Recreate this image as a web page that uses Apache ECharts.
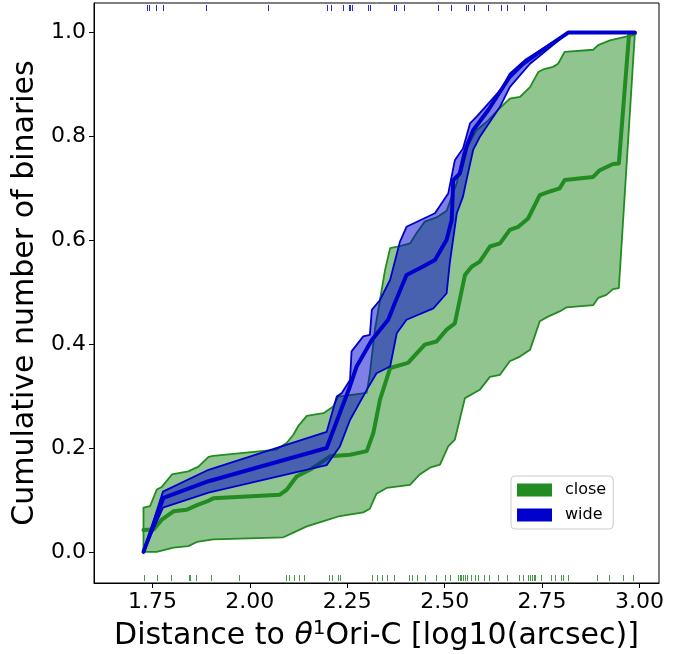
<!DOCTYPE html>
<html><head><meta charset="utf-8">
<script src="https://cdn.jsdelivr.net/npm/echarts@6/dist/echarts.min.js"></script>
<style>html,body{margin:0;padding:0;background:#fff}#c{width:694px;height:654px}</style>
</head><body><div id="c"></div>
<script>
// ---- data ----
const xTicks = [1.75, 2.00, 2.25, 2.50, 2.75, 3.00];
const yTicks = [0.0, 0.2, 0.4, 0.6, 0.8, 1.0];

const closeUpper = [[1.727,0.085],[1.744,0.088],[1.761,0.120],[1.774,0.125],[1.800,0.149],[1.842,0.155],[1.868,0.164],[1.894,0.183],[1.906,0.185],[2.069,0.197],[2.095,0.210],[2.112,0.226],[2.124,0.242],[2.146,0.262],[2.189,0.267],[2.214,0.280],[2.227,0.299],[2.300,0.306],[2.308,0.344],[2.321,0.428],[2.334,0.485],[2.347,0.543],[2.360,0.585],[2.385,0.589],[2.411,0.594],[2.428,0.614],[2.449,0.636],[2.479,0.644],[2.505,0.657],[2.531,0.710],[2.547,0.767],[2.582,0.812],[2.612,0.831],[2.637,0.851],[2.667,0.873],[2.693,0.876],[2.719,0.895],[2.740,0.924],[2.753,0.929],[2.778,0.934],[2.791,0.940],[2.808,0.963],[2.881,0.967],[2.894,0.976],[2.924,0.985],[2.971,0.993],[2.988,0.998]];
const closeMedian = [[1.727,0.042],[1.753,0.043],[1.774,0.062],[1.804,0.078],[1.838,0.081],[1.864,0.090],[1.890,0.097],[1.906,0.103],[2.077,0.110],[2.095,0.120],[2.120,0.145],[2.154,0.158],[2.206,0.184],[2.257,0.187],[2.300,0.194],[2.317,0.229],[2.334,0.293],[2.360,0.354],[2.406,0.364],[2.424,0.379],[2.449,0.399],[2.479,0.405],[2.505,0.428],[2.526,0.440],[2.552,0.533],[2.569,0.549],[2.590,0.559],[2.616,0.588],[2.642,0.594],[2.667,0.620],[2.689,0.626],[2.714,0.642],[2.744,0.687],[2.770,0.694],[2.795,0.700],[2.808,0.716],[2.881,0.722],[2.898,0.735],[2.932,0.747],[2.947,0.748],[2.973,0.995],[2.988,0.998]];
const closeLower = [[1.727,0.0],[1.761,0.0],[1.804,0.008],[1.842,0.011],[1.864,0.019],[1.906,0.024],[2.086,0.028],[2.120,0.040],[2.146,0.049],[2.189,0.059],[2.231,0.069],[2.291,0.076],[2.308,0.083],[2.325,0.112],[2.351,0.123],[2.411,0.129],[2.436,0.149],[2.462,0.162],[2.488,0.168],[2.509,0.203],[2.526,0.216],[2.552,0.296],[2.590,0.312],[2.616,0.337],[2.642,0.341],[2.667,0.367],[2.693,0.376],[2.719,0.389],[2.744,0.444],[2.765,0.453],[2.795,0.463],[2.813,0.471],[2.881,0.475],[2.894,0.489],[2.915,0.495],[2.932,0.506],[2.947,0.508],[2.988,0.998]];

const wideUpper = [[1.727,0.0],[1.777,0.116],[1.894,0.158],[2.197,0.231],[2.223,0.299],[2.236,0.306],[2.257,0.331],[2.261,0.386],[2.291,0.415],[2.308,0.418],[2.313,0.466],[2.334,0.485],[2.360,0.524],[2.385,0.597],[2.402,0.626],[2.475,0.652],[2.509,0.690],[2.526,0.754],[2.547,0.777],[2.565,0.825],[2.582,0.838],[2.646,0.892],[2.667,0.921],[2.706,0.947],[2.817,1.0],[2.988,1.0]];
const wideMedian = [[1.727,0.0],[1.778,0.104],[1.894,0.136],[2.197,0.200],[2.257,0.319],[2.274,0.357],[2.313,0.408],[2.355,0.447],[2.372,0.479],[2.402,0.533],[2.436,0.546],[2.475,0.562],[2.505,0.601],[2.518,0.639],[2.522,0.716],[2.539,0.729],[2.556,0.780],[2.573,0.812],[2.612,0.851],[2.642,0.886],[2.667,0.915],[2.701,0.940],[2.744,0.963],[2.817,1.0],[2.988,1.0]];
const wideLower = [[1.727,0.0],[1.777,0.085],[1.894,0.114],[2.197,0.167],[2.231,0.203],[2.257,0.254],[2.300,0.312],[2.325,0.344],[2.360,0.357],[2.377,0.421],[2.402,0.447],[2.471,0.469],[2.505,0.498],[2.513,0.556],[2.531,0.652],[2.547,0.684],[2.556,0.716],[2.573,0.774],[2.590,0.799],[2.642,0.857],[2.667,0.895],[2.719,0.940],[2.817,1.0],[2.988,1.0]];

const closeRug = [1.729,1.761,1.797,1.843,1.847,1.862,1.900,1.972,2.093,2.101,2.114,2.125,2.138,2.202,2.211,2.227,2.231,2.313,2.326,2.339,2.352,2.371,2.409,2.416,2.428,2.449,2.477,2.501,2.513,2.535,2.539,2.543,2.547,2.553,2.556,2.567,2.577,2.586,2.601,2.614,2.636,2.659,2.690,2.701,2.714,2.719,2.723,2.729,2.733,2.746,2.774,2.784,2.799,2.804,2.817,2.891,2.921,2.958,2.984];
const wideRug = [1.735,1.740,1.760,1.777,1.887,2.046,2.198,2.209,2.239,2.254,2.258,2.262,2.304,2.309,2.369,2.374,2.396,2.482,2.516,2.555,2.560,2.574,2.611,2.644,2.660,2.703,2.761];

const groupNames = ['close', 'wide'];

// ---- styles ----
const GREEN = '#228B22';
const BLUE = '#0000CD';
const FONT = 'DejaVu Sans';

function bandSeries(name, upper, lower, fill, stroke, z) {
  return {
    type: 'custom', name: name, z: z, silent: true, clip: true,
    coordinateSystem: 'cartesian2d',
    encode: {x: 0, y: 1},
    data: [upper[0]],
    itemStyle: {color: stroke},
    renderItem: function (params, api) {
      const pts = upper.map(p => api.coord(p))
        .concat(lower.slice().reverse().map(p => api.coord(p)));
      return {type: 'polygon', shape: {points: pts},
        style: {fill: fill, stroke: stroke, lineWidth: 1.8, lineJoin: 'round'}};
    }
  };
}
function medianSeries(name, pts, color, z) {
  return {
    type: 'line', name: name, z: z, silent: true, data: pts,
    showSymbol: false, symbol: 'none', smooth: false,
    lineStyle: {color: color, width: 4, join: 'round', cap: 'round'},
    itemStyle: {color: color}
  };
}
function rugSeries(name, vals, color, atTop) {
  return {
    type: 'custom', name: name, z: 6, silent: true,
    coordinateSystem: 'cartesian2d',
    encode: {x: 0, y: 1},
    data: vals.map(v => [v, 0]),
    itemStyle: {color: color},
    renderItem: function (params, api) {
      const cs = params.coordSys;
      const x = Math.round(api.coord([api.value(0), 0])[0]) + 0.5;
      let y1, y2;
      if (atTop) { y1 = cs.y + 2; y2 = cs.y + 8; }
      else { y1 = cs.y + cs.height - 2; y2 = cs.y + cs.height - 8; }
      return {type: 'line', shape: {x1: x, y1: y1, x2: x, y2: y2},
        style: {stroke: color, lineWidth: 1, opacity: 0.85}};
    }
  };
}

const chart = echarts.init(document.getElementById('c'), null, {renderer: 'canvas'});
chart.setOption({
  animation: false,
  backgroundColor: '#fff',
  grid: {left: 94, right: 35, top: 3, bottom: 71, show: true,
    borderColor: '#000', borderWidth: 1, backgroundColor: 'transparent',
    outerBoundsMode: 'none'},
  xAxis: {
    type: 'value', min: 1.6, max: 3.05,
    axisLine: {show: true, onZero: false, lineStyle: {color: '#000', width: 1}},
    axisTick: {show: true, length: 5, customValues: xTicks, lineStyle: {color: '#000', width: 1}},
    axisLabel: {customValues: xTicks, formatter: v => v.toFixed(2), fontSize: 22,
      color: '#000', fontFamily: FONT, margin: 8},
    splitLine: {show: false},
    name: '{n|Distance to }{t|θ}{s|1}{n|Ori-C [log10(arcsec)]}',
    nameLocation: 'middle', nameGap: 36,
    nameTextStyle: {fontSize: 30, fontFamily: FONT, color: '#000',
      rich: {
        n: {fontSize: 30, fontFamily: FONT, color: '#000', lineHeight: 34},
        t: {fontSize: 30, fontFamily: FONT, color: '#000', fontStyle: 'italic', lineHeight: 34},
        s: {fontSize: 20, fontFamily: FONT, color: '#000', lineHeight: 20, verticalAlign: 'top'}
      }}
  },
  yAxis: {
    type: 'value', min: -0.06, max: 1.057,
    axisLine: {show: true, onZero: false, lineStyle: {color: '#000', width: 1}},
    axisTick: {show: true, length: 5, customValues: yTicks, lineStyle: {color: '#000', width: 1}},
    axisLabel: {customValues: yTicks, formatter: v => v.toFixed(1), fontSize: 22,
      color: '#000', fontFamily: FONT, margin: 8},
    splitLine: {show: false},
    name: 'Cumulative number of binaries',
    nameLocation: 'middle', nameGap: 44,
    nameTextStyle: {fontSize: 30, fontFamily: FONT, color: '#000'}
  },
  legend: {
    orient: 'vertical', left: 511, top: 476,
    padding: [6, 7, 6, 6], itemGap: 9,
    itemWidth: 35, itemHeight: 13, icon: 'rect',
    backgroundColor: '#fff', borderColor: '#cccccc', borderWidth: 1, borderRadius: 4,
    selectedMode: false,
    textStyle: {fontSize: 16, fontFamily: FONT, color: '#000', lineHeight: 16, padding: [0, 0, 0, 8]},
    data: [
      {name: groupNames[0], itemStyle: {color: GREEN}},
      {name: groupNames[1], itemStyle: {color: BLUE}}
    ]
  },
  series: [
    bandSeries(groupNames[0], closeUpper, closeLower, 'rgba(34,139,34,0.5)', GREEN, 1),
    medianSeries(groupNames[0], closeMedian, GREEN, 2),
    bandSeries(groupNames[1], wideUpper, wideLower, 'rgba(0,0,205,0.5)', BLUE, 3),
    medianSeries(groupNames[1], wideMedian, BLUE, 4),
    rugSeries(groupNames[0], closeRug, GREEN, false),
    rugSeries(groupNames[1], wideRug, BLUE, true)
  ]
});
</script>
</body></html>
